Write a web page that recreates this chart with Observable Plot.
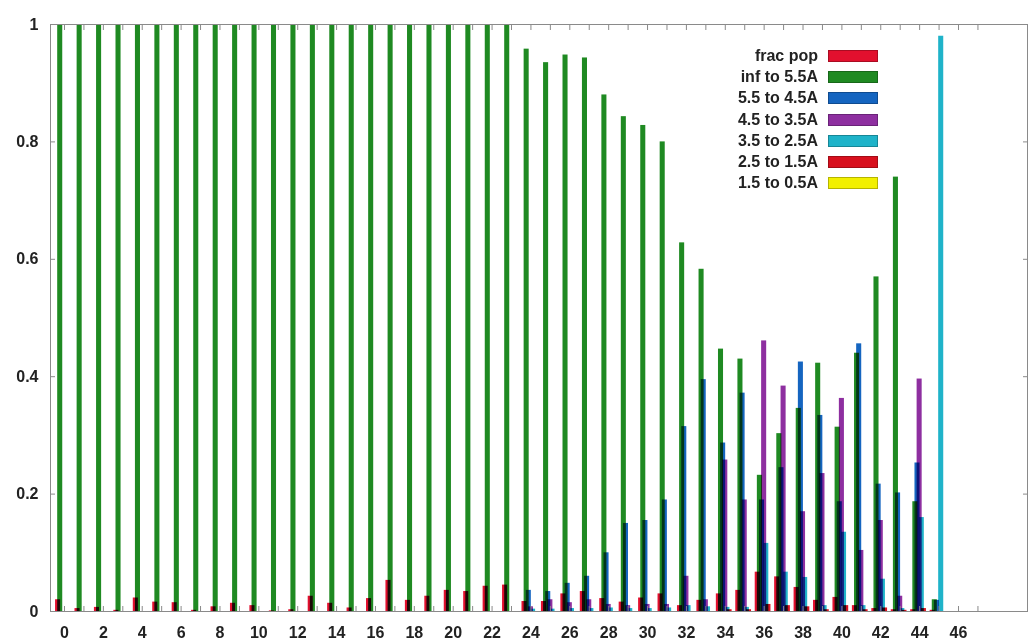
<!DOCTYPE html>
<html><head><meta charset="utf-8">
<script src="https://cdn.jsdelivr.net/npm/d3@7"></script>
<script src="https://cdn.jsdelivr.net/npm/@observablehq/plot@0.6"></script>
<style>
body{margin:0;background:#fff;}
#wrap{position:relative;width:1029px;height:643px;}
#legend{position:absolute;left:670px;top:45px;font:bold 16px "Liberation Sans",Arial,sans-serif;color:#222;}
.row{display:flex;align-items:center;height:21.3px;}
.lab{width:148px;text-align:right;}
.sw{width:48px;height:10px;margin-left:10px;border:1px solid rgba(0,0,0,0.25);}
</style></head><body><div id="wrap"><div id="legend"></div></div>
<script>
const categories = d3.range(0, 46);
const seriesNames = ["frac pop", "inf to 5.5A", "5.5 to 4.5A", "4.5 to 3.5A", "3.5 to 2.5A", "2.5 to 1.5A", "1.5 to 0.5A"];
const seriesColors = ["#e2102e", "#1f8a22", "#1565c0", "#8e2fa0", "#1fb3c9", "#d8101e", "#f2f000"];
const xTickLabels = d3.range(0, 47, 2);

const fracPop = [0.020,0.005,0.007,0.002,0.023,0.016,0.015,0.002,0.008,0.014,0.010,0.001,0.003,0.026,0.014,0.006,0.022,0.053,0.019,0.026,0.036,0.034,0.043,0.045,0.017,0.017,0.030,0.034,0.022,0.016,0.023,0.030,0.010,0.019,0.030,0.036,0.067,0.059,0.041,0.019,0.024,0.010,0.005,0.003,0.003,0.002];
const infTo55 = [1,1,1,1,1,1,1,1,1,1,1,1,1,1,1,1,1,1,1,1,1,1,1,1,0.958,0.935,0.948,0.943,0.880,0.843,0.828,0.800,0.628,0.583,0.447,0.430,0.232,0.303,0.346,0.423,0.314,0.440,0.570,0.740,0.187,0.020];
const r55to45 = [0,0,0,0,0,0,0,0,0,0,0,0,0,0,0,0,0,0,0,0,0,0,0,0,0.036,0.034,0.048,0.060,0.100,0.150,0.155,0.190,0.315,0.395,0.287,0.372,0.190,0.245,0.425,0.334,0.187,0.456,0.217,0.202,0.253,0.019];
const r45to35 = [0,0,0,0,0,0,0,0,0,0,0,0,0,0,0,0,0,0,0,0,0,0,0,0,0.008,0.020,0.015,0.020,0.012,0.010,0.012,0.012,0.060,0.020,0.258,0.190,0.461,0.384,0.170,0.235,0.363,0.104,0.155,0.026,0.396,0];
const r35to25 = [0,0,0,0,0,0,0,0,0,0,0,0,0,0,0,0,0,0,0,0,0,0,0,0,0.004,0.004,0.005,0.005,0.006,0.005,0.005,0.006,0.010,0.008,0.007,0.007,0.116,0.067,0.058,0.010,0.135,0.010,0.055,0.005,0.160,0.980];
const r25to15 = [0,0,0,0,0,0,0,0,0,0,0,0,0,0,0,0,0,0,0,0,0,0,0,0,0,0,0,0,0,0,0,0,0,0,0.003,0.003,0.012,0.010,0.008,0.003,0.010,0.003,0.006,0.002,0.005,0];
const r15to05 = [0,0,0,0,0,0,0,0,0,0,0,0,0,0,0,0,0,0,0,0,0,0,0,0,0,0,0,0,0,0,0,0,0,0,0,0,0,0,0,0,0,0,0,0,0,0];

const seriesValues = [fracPop, infTo55, r55to45, r45to35, r35to25, r25to15, r15to05];

const table = [];
seriesValues.forEach((vals, s) => {
  categories.forEach((c, i) => {
    if (vals[i] > 0) table.push({cat: c, s, name: seriesNames[s], v: vals[i]});
  });
});

const step = 0.11, half = 0.13;
const allTicks = d3.range(0, 48);
const yTicks = [0, 0.2, 0.4, 0.6, 0.8, 1];
const font = '"Liberation Sans", Arial, sans-serif';

const chart = Plot.plot({
  width: 1029, height: 643,
  marginLeft: 50, marginRight: 2, marginTop: 24, marginBottom: 32,
  style: {fontFamily: font, fontSize: "16px", color: "#222", background: "#fff"},
  x: {domain: [-0.72, 49.55], axis: null},
  y: {domain: [0, 1], axis: null, label: null},
  color: {domain: seriesNames, range: seriesColors},
  marks: [
    Plot.rectY(table, {
      x1: d => d.cat + (d.s - 3) * step - half,
      x2: d => d.cat + (d.s - 3) * step + half,
      y1: 0, y2: "v",
      fill: "name",
      mixBlendMode: "multiply"
    }),
    Plot.frame({stroke: "#8a8a8a"}),
    Plot.axisX(allTicks, {anchor: "bottom", tickSize: -5, fill: "none", stroke: "#8a8a8a", label: null}),
    Plot.axisX(allTicks, {anchor: "top", tickSize: -5, fill: "none", stroke: "#8a8a8a", label: null}),
    Plot.axisY(yTicks, {anchor: "left", tickSize: -5, fill: "none", stroke: "#8a8a8a", label: null}),
    Plot.axisY(yTicks, {anchor: "right", tickSize: -5, fill: "none", stroke: "#8a8a8a", label: null}),
    Plot.axisX(xTickLabels, {anchor: "bottom", tickSize: 0, tickPadding: 15, fill: "#222", fontSize: 16, fontWeight: "bold", label: null}),
    Plot.axisY(yTicks, {anchor: "left", tickSize: 0, tickPadding: 12, fill: "#222", fontSize: 16, fontWeight: "bold", label: null, tickFormat: d => String(d)})
  ]
});
const wrap = document.getElementById("wrap");
wrap.insertBefore(chart, wrap.firstChild);

const legend = document.getElementById("legend");
seriesNames.forEach((n, i) => {
  const row = document.createElement("div");
  row.className = "row";
  row.innerHTML = `<span class="lab">${n}</span><span class="sw" style="background:${seriesColors[i]}"></span>`;
  legend.appendChild(row);
});
</script>
</body></html>
